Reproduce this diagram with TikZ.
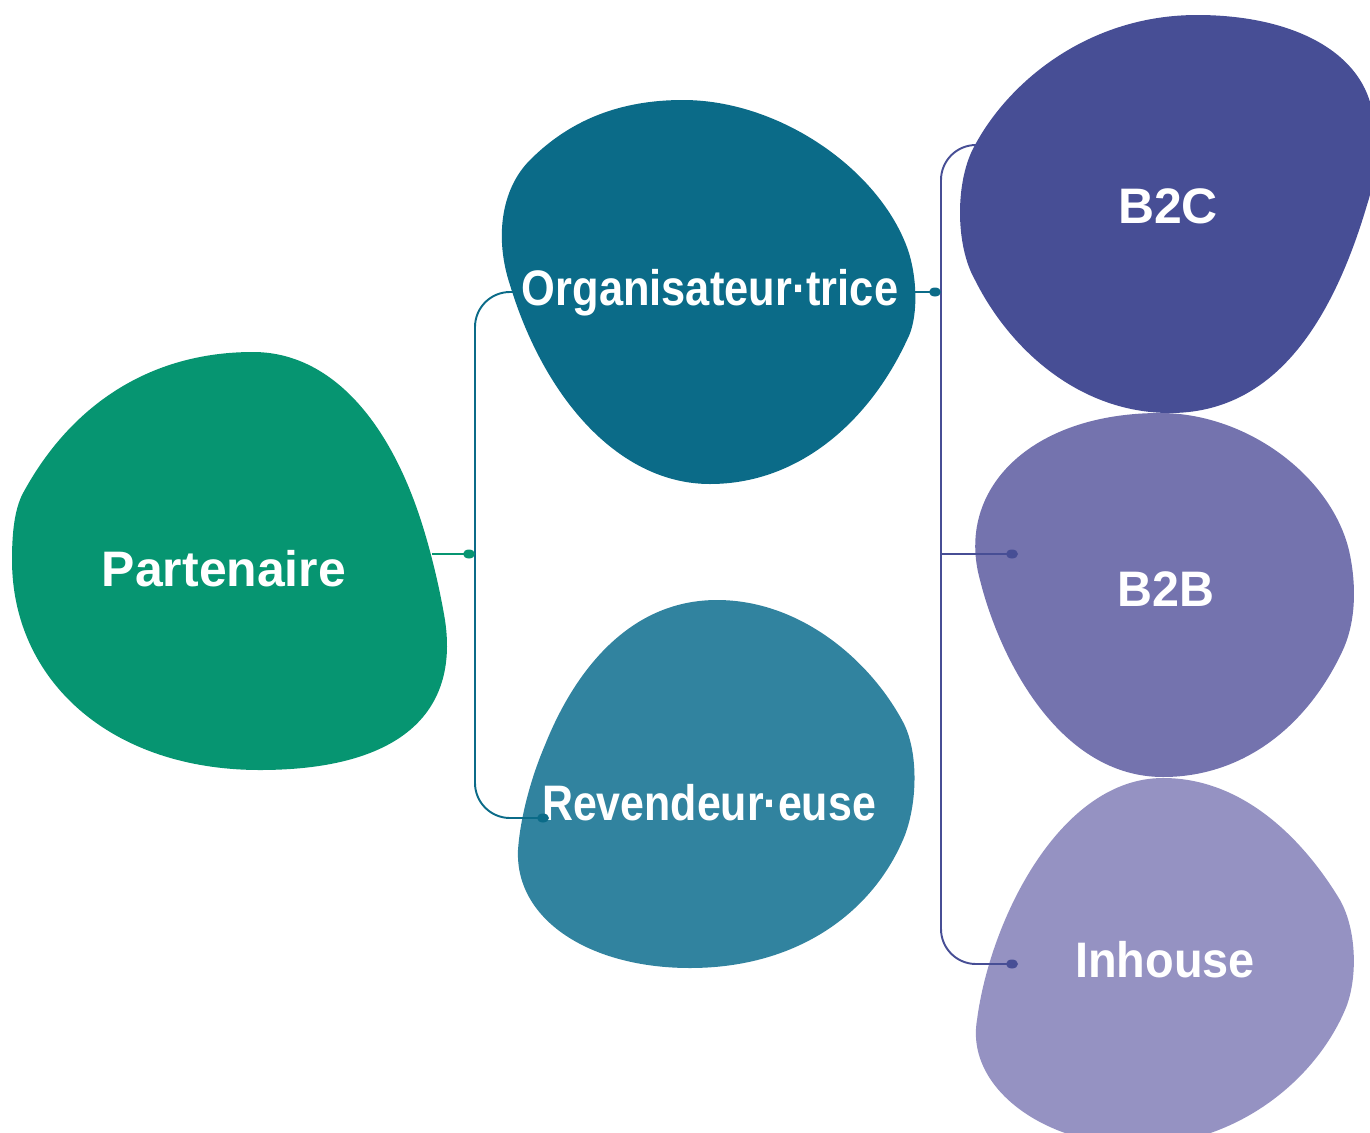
\documentclass[tikz,border=0pt]{standalone}
\usepackage{fontspec}
\usepackage{xcolor}
\usepackage{tikz}
\usetikzlibrary{calc}
\newfontfamily\blobfont{Liberation Sans}
\definecolor{partnergreen}{HTML}{069571}
\definecolor{organiserteal}{HTML}{0B6B88}
\definecolor{resellerteal}{HTML}{31839F}
\definecolor{btocindigo}{HTML}{474E95}
\definecolor{btobviolet}{HTML}{7473AE}
\definecolor{inhouselilac}{HTML}{9592C2}

\begin{document}
\begin{tikzpicture}[x=0.02cm,y=-0.02cm,
  blob label/.style={text=white,anchor=base,inner sep=0pt,font=\blobfont\bfseries\fontsize{28.4}{34}\selectfont},
  bracket line/.style={line width=1.1pt,rounded corners=0.7cm}]
\newcommand{\Squeeze}[2]{\scalebox{#1}[1]{#2}}
\useasboundingbox (0,0) rectangle (1370,1133);
\clip (0,0) rectangle (1370,1133);
% blobs
\fill[partnergreen] (253,352) .. controls (330,352) and (390,420) .. (423,527) .. controls (432,556) and (440,590) .. (445,620) .. controls (460,720) and (390,770) .. (260,770) .. controls (110,770) and (12,680) .. (12,560) .. controls (12,530) and (15,510) .. (22,495) .. controls (70,405) and (150,352) .. (253,352); % Partenaire
\fill[organiserteal] (683,100) .. controls (780,100) and (880,170) .. (908,250) .. controls (918,280) and (918,320) .. (907,340) .. controls (870,420) and (800,484) .. (710,484) .. controls (620,484) and (545,400) .. (510,285) .. controls (495,240) and (500,190) .. (530,160) .. controls (570,120) and (620,100) .. (683,100); % Organisateur
\fill[resellerteal] (717,600) .. controls (800,600) and (870,660) .. (903,722) .. controls (918,750) and (918,800) .. (905,835) .. controls (875,910) and (800,968) .. (690,968) .. controls (590,968) and (515,920) .. (518,850) .. controls (520,820) and (530,780) .. (545,745) .. controls (575,670) and (630,600) .. (717,600); % Revendeur
\fill[btocindigo] (1197,15) .. controls (1290,15) and (1360,50) .. (1372,110) .. controls (1380,150) and (1375,180) .. (1367,205) .. controls (1330,330) and (1270,413) .. (1170,413) .. controls (1080,413) and (1010,350) .. (975,280) .. controls (955,245) and (955,180) .. (975,145) .. controls (1010,80) and (1090,15) .. (1197,15); % B2C
\fill[btobviolet] (1160,413) .. controls (1250,413) and (1335,480) .. (1350,555) .. controls (1357,590) and (1355,625) .. (1342,652) .. controls (1305,730) and (1240,777) .. (1163,777) .. controls (1060,777) and (1000,660) .. (980,580) .. controls (955,490) and (1030,413) .. (1160,413); % B2B
\fill[inhouselilac] (1163,778) .. controls (1250,778) and (1310,850) .. (1340,900) .. controls (1357,930) and (1358,980) .. (1345,1010) .. controls (1315,1080) and (1240,1140) .. (1150,1145) .. controls (1050,1150) and (965,1090) .. (977,1020) .. controls (990,920) and (1060,778) .. (1163,778); % Inhouse
% labels
\node (partner) at (224,586)[blob label]{Partenaire};
\node (organiser) at (710,305)[blob label]{\Squeeze{0.87}{Organisateur·trice}};
\node (reseller) at (709,820)[blob label]{\Squeeze{0.86}{Revendeur·euse}};
\node (btoc) at (1168,223)[blob label]{B2C};
\node (btob) at (1166,606)[blob label]{\Squeeze{0.97}{B2B}};
\node (inhouse) at (1165,977)[blob label]{\Squeeze{0.94}{Inhouse}};
% ports
\coordinate (partner out) at (432,554);
\coordinate (left split) at (469,554);
\coordinate (left bar) at (475,554);
\coordinate (organiser in) at (518,292);
\coordinate (reseller in) at (543,818);
\coordinate (organiser out) at (914,292);
\coordinate (right split) at (935,292);
\coordinate (right bar) at (941,554);
\coordinate (btoc in) at (980,145);
\coordinate (btob in) at (1012,554);
\coordinate (inhouse in) at (1012,964);
% connectors
\draw[bracket line,organiserteal] (organiser in) -| (left bar) |- (reseller in);
\draw[line width=1.1pt,partnergreen] (partner out) -- (left split);
\fill[partnergreen] (left split) ellipse (6 and 4.5);
\fill[organiserteal] (reseller in) ellipse (6 and 4.5);
\draw[bracket line,btocindigo] (btoc in) -| (right bar) |- (inhouse in);
\draw[line width=1.1pt,btocindigo] (right bar) -- (btob in);
\draw[line width=1.1pt,organiserteal] (organiser out) -- (right split);
\fill[organiserteal] (right split) ellipse (6 and 4.5);
\fill[btocindigo] (btob in) ellipse (6 and 4.5);
\fill[btocindigo] (inhouse in) ellipse (6 and 4.5);
\end{tikzpicture}
\end{document}
